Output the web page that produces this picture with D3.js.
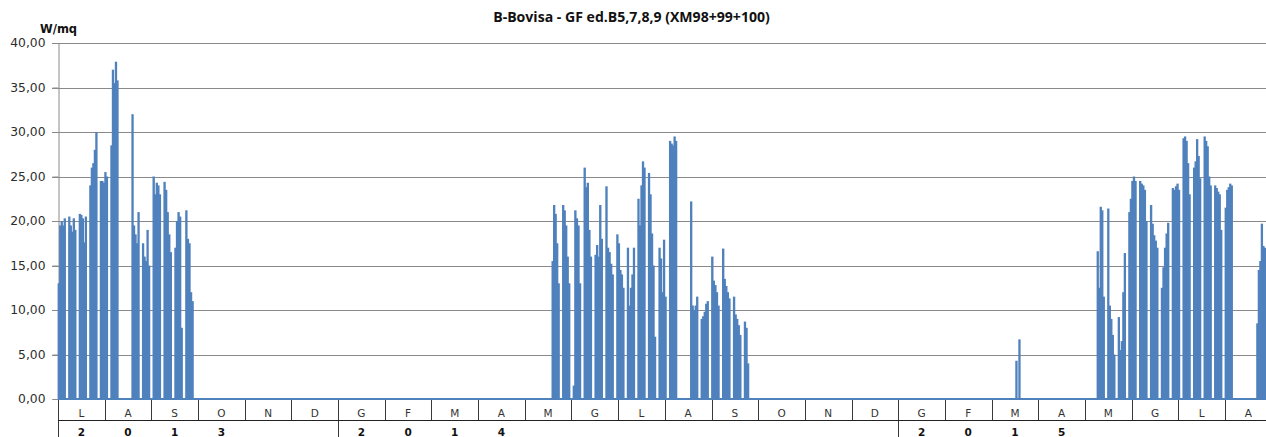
<!DOCTYPE html>
<html><head><meta charset="utf-8">
<script src="https://cdn.jsdelivr.net/npm/d3@7"></script>
<style>
html,body{margin:0;padding:0;background:#fff;overflow:hidden;}
svg{display:block;}
</style></head>
<body>
<svg id="chart" width="1266" height="437"></svg>
<script>
// ---------------- data ----------------
const chartTitle = "B-Bovisa - GF ed.B5,7,8,9 (XM98+99+100)";
const unitLabel = "W/mq";
const yTicks = [0, 5, 10, 15, 20, 25, 30, 35, 40];
const monthLabels = ["L","A","S","O","N","D","G","F","M","A","M","G","L","A","S","O","N","D","G","F","M","A","M","G","L","A"];
const yearLabels  = ["2","0","1","3","","","2","0","1","4","","","","","","","","","2","0","1","5","","","",""];
const yearBreaks = [0, 6, 18];            // month index where a new year group starts
const firstMonth = "2013-07-01";

// daily values (W/mq), one entry per day from the start date
const start2013 = "2013-07-01";
const values2013 = [
  13,19.5,20,19.5,20.3,0,0,
  20.5,19.5,18.8,20.3,19,0,0,
  20.8,20.7,20.3,17.6,20.5,0,0,
  24,26,26.5,28,30,0,0,
  24.5,24.5,24.3,25.5,25,0,0,
  28.5,37,35.5,37.9,35.8,0,0,
  0,0,0,0,0,0,0,
  32,19.5,18.5,17.5,21,0,0,
  17.5,16,15.5,19,15,0,0,
  25,23,24.3,24,23,0,0,
  24.4,23.5,21,18.5,16.5,0,0,
  17,20,21,20.5,8,0,0,
  21.2,18,17.5,12,11
];
const start2014 = "2014-05-19";
const values2014 = [
  15.5,21.8,20.8,17.5,13,0,0,
  21.8,21.2,19.5,16,13,0,0,
  1.5,21.2,20.3,19.5,13,0,0,
  26,23.8,24.3,19,16,0,0,
  16.2,17.3,16,21.8,18,0,0,
  23.9,17,16.5,15.2,14,0,0,
  18.5,17.5,14.5,14,12.5,0,0,
  17,10.5,12.5,14,17,0,0,
  22.5,19.5,24,26.7,26,0,0,
  25.4,23,18.6,15,7,0,0,
  17,15.8,12,17.9,11.5,0,0,
  29,28.7,28.5,29.5,29,0,0,
  0,0,0,0,0,0,0,
  22.2,10.5,10,10.5,11.5,0,0,
  9,9.3,9.8,10.7,11,0,0,
  16,13.3,12.8,12,10.5,0,0,
  16.9,13.5,12.7,12,11.3,0,0,
  11.5,9.5,9,8.3,7.2,0,0,
  8.7,8,4
];
const startMar2015 = "2015-03-17";
const valuesMar2015 = [4.3, 0, 6.7];
const start2015 = "2015-05-09";
const values2015 = [
  16.6,12.5,21.6,21.2,11.5,0,0,
  21.4,10.5,9,7.2,5,0,0,
  9.2,5.5,6.5,12,16.4,0,0,
  21,22.5,24.5,25,24.5,0,0,
  24.5,24.2,24,23.5,20,0,0,
  21.8,19.7,18.4,17.8,17,0,0,
  12.5,14.8,17,18.6,19.8,0,0,
  23.7,23.5,23.9,24.2,23.5,0,0,
  29.3,29.5,29,26.5,23,0,0,
  26,26.7,29.2,27.3,24.8,0,0,
  29.5,29,28.4,25,24,0,0,
  24,23.7,23.3,23,19,0,0,
  21.5,23.5,23.8,24.2,24,0,0,
  0,0,0,0,0,0,0,
  0,0,0,0,0,0,0,
  8.5,14.5,15.5,19.7,17.2,17
];

// ---------------- layout ----------------
const W = 1266, H = 437;
const plotLeft = 58, plotTop = 43, plotBottom = 399;
const monthWidth = 46.68;
const row1Bottom = 420.5, axisBottom = 437;
const barColor = "#4F81BD";
const gridColor = "#8a8a8a";
const barOverlap = 0.8;

const svg = d3.select("#chart");
const parse = d3.utcParse("%Y-%m-%d");
const m0 = parse(firstMonth);
const monthBounds = d3.range(monthLabels.length + 1).map(i => d3.utcMonth.offset(m0, i));
const x = d3.scaleUtc().domain(monthBounds)
  .range(monthBounds.map((d, i) => plotLeft + i * monthWidth));
const xBand = d3.scaleBand().domain(d3.range(monthLabels.length))
  .range([plotLeft, plotLeft + monthLabels.length * monthWidth]).padding(0);
const y = d3.scaleLinear().domain([0, 40]).range([plotBottom, plotTop]);

const locale = d3.formatLocale({decimal: ",", thousands: ".", grouping: [3], currency: ["€", ""]});
const fmt = locale.format(".2f");

// gridlines
svg.append("g").selectAll("line").data(yTicks.filter(t => t > 0)).join("line")
  .attr("x1", plotLeft - 6).attr("x2", W)
  .attr("y1", d => Math.round(y(d)) + 0.5).attr("y2", d => Math.round(y(d)) + 0.5)
  .attr("stroke", gridColor).attr("stroke-width", 1);

// y axis
const yAxis = svg.append("g").attr("transform", `translate(${plotLeft + 0.5},0)`)
  .call(d3.axisLeft(y).tickValues(yTicks).tickFormat(fmt).tickSize(6).tickPadding(7));
yAxis.select(".domain").attr("stroke", gridColor);
yAxis.selectAll(".tick line").attr("stroke", gridColor);
yAxis.selectAll(".tick text").attr("font-family", "DejaVu Sans, Verdana, sans-serif")
  .attr("font-size", 12.3).attr("fill", "#2b2b2b");

// bars
function series(start, vals) {
  const s = parse(start);
  return vals.map((v, i) => ({d: d3.utcDay.offset(s, i), v})).filter(p => p.v > 0);
}
const allBars = [].concat(
  series(start2013, values2013),
  series(start2014, values2014),
  series(startMar2015, valuesMar2015),
  series(start2015, values2015)
);
svg.append("g").selectAll("rect").data(allBars).join("rect")
  .attr("x", p => x(p.d) - barOverlap / 2)
  .attr("width", p => x(d3.utcDay.offset(p.d, 1)) - x(p.d) + barOverlap)
  .attr("y", p => y(p.v))
  .attr("height", p => y(0) - y(p.v))
  .attr("fill", barColor);

// baseline
svg.append("line").attr("x1", plotLeft).attr("x2", W)
  .attr("y1", plotBottom).attr("y2", plotBottom)
  .attr("stroke", barColor).attr("stroke-width", 2);

// category axis (two rows)
const ax = svg.append("g").attr("shape-rendering", "crispEdges");
ax.selectAll("line.msep").data(d3.range(monthLabels.length + 1)).join("line")
  .attr("class", "msep")
  .attr("x1", i => Math.round(plotLeft + i * monthWidth) + 0.5)
  .attr("x2", i => Math.round(plotLeft + i * monthWidth) + 0.5)
  .attr("y1", plotBottom + 1).attr("y2", i => yearBreaks.includes(i) ? axisBottom : row1Bottom)
  .attr("stroke", "#3a3a3a");
ax.append("line").attr("x1", plotLeft).attr("x2", W)
  .attr("y1", row1Bottom).attr("y2", row1Bottom).attr("stroke", "#222");

svg.append("g").selectAll("text").data(monthLabels).join("text")
  .attr("x", (d, i) => xBand(i) + xBand.bandwidth() / 2)
  .attr("y", 417).attr("text-anchor", "middle")
  .attr("font-family", "DejaVu Sans, Verdana, sans-serif").attr("font-size", 10.5)
  .attr("fill", "#333").text(d => d);

svg.append("g").selectAll("text").data(yearLabels).join("text")
  .attr("x", (d, i) => xBand(i) + xBand.bandwidth() / 2)
  .attr("y", 436).attr("text-anchor", "middle")
  .attr("font-family", "DejaVu Sans, Verdana, sans-serif").attr("font-size", 10.5)
  .attr("font-weight", "bold").attr("fill", "#111").text(d => d);

// title and unit
const t = svg.append("text").attr("x", 631.5).attr("y", 22).attr("text-anchor", "middle")
  .attr("font-family", "Open Sans, Liberation Sans, sans-serif").attr("font-weight", "bold")
  .attr("font-size", 12).attr("fill", "#111").text(chartTitle);
const tw = t.node().getComputedTextLength();
if (tw > 0) t.attr("font-size", 12 * 277 / tw);

svg.append("text").attr("x", 40).attr("y", 33)
  .attr("font-family", "DejaVu Sans, Verdana, sans-serif").attr("font-weight", "bold")
  .attr("font-size", 11.5).attr("fill", "#111").text(unitLabel);
</script>
</body></html>
